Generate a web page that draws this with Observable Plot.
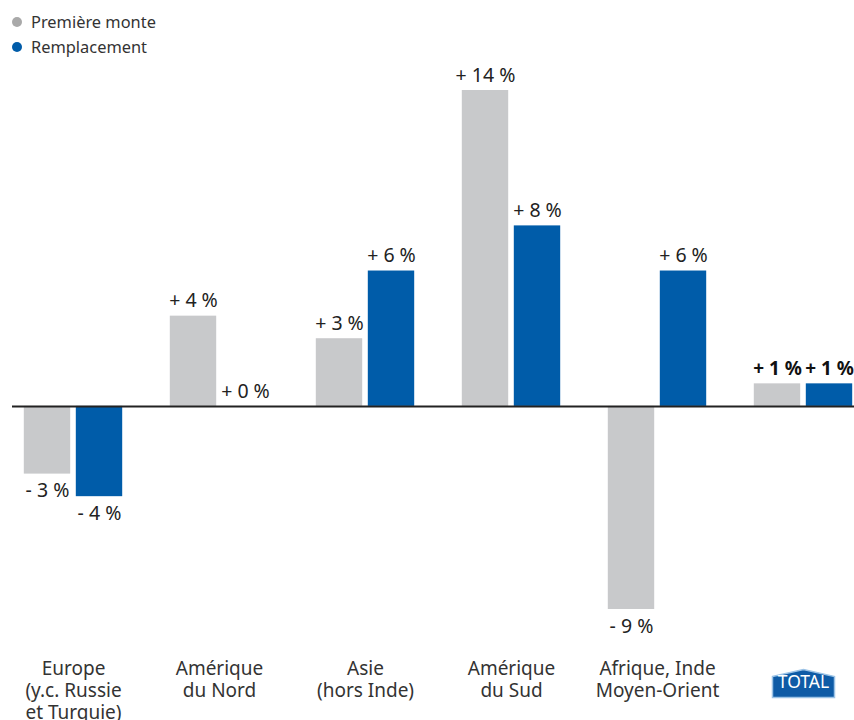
<!DOCTYPE html>
<html><head><meta charset="utf-8">
<script src="https://cdn.jsdelivr.net/npm/d3@7"></script>
<script src="https://cdn.jsdelivr.net/npm/@observablehq/plot@0.6"></script>
<style>
body{margin:0;background:#fff;font-family:"Noto Sans",sans-serif;color:#333;}
#legend{height:62px;box-sizing:border-box;padding:9px 0 0 12px;font-size:16.4px;line-height:25px;}
#legend .sw{display:inline-block;width:10px;height:10px;border-radius:50%;margin-right:9px;vertical-align:middle;position:relative;top:-2px;}
</style></head>
<body>
<div id="legend"></div>
<div id="chart"></div>
<script>
const regions = ["Europe","Amérique du Nord","Asie","Amérique du Sud","Afrique, Inde, Moyen-Orient","Total"];
const regionLabels = ["Europe\n(y.c. Russie\net Turquie)","Amérique\ndu Nord","Asie\n(hors Inde)","Amérique\ndu Sud","Afrique, Inde\nMoyen-Orient",""];
const series = ["Première monte","Remplacement"];
const premiereMonte = [-3, 4, 3, 14, -9, 1];
const remplacement = [-4, 0, 6, 8, 6, 1];
const colors = ["#c8c9cb","#005ca9"];
const legendColors = ["#a9a9a9","#005ca9"];

const pm = regions.map((r,i)=>({region:r, series:series[0], value:premiereMonte[i]}));
const rp = regions.map((r,i)=>({region:r, series:series[1], value:remplacement[i]}));
const fmt = v => (v >= 0 ? "+ " : "- ") + Math.abs(v) + " %";
const labelRows = regions.map((r,i)=>({region:r, label:regionLabels[i]}));

document.getElementById("legend").innerHTML = series.map((s,i)=>
  `<div><span class="sw" style="background:${legendColors[i]}"></span>${s}</div>`).join("");

const house = {
  draw(ctx){
    ctx.moveTo(-31,-7); ctx.lineTo(0,-14); ctx.lineTo(31,-7);
    ctx.lineTo(31,14); ctx.lineTo(-31,14); ctx.closePath();
  }
};

const notTotal = d => d.region !== "Total";
const isTotal = d => d.region === "Total";
const OFF = 26; // half distance between paired bar centers

function valueLabels(rows, dxv){
  return [
    Plot.text(rows.filter(d => notTotal(d) && d.value >= 0), {x: "region", y: "value", text: d => fmt(d.value), dx: dxv, dy: -15, fill: "#222", fontSize: 19.5}),
    Plot.text(rows.filter(d => notTotal(d) && d.value < 0), {x: "region", y: "value", text: d => fmt(d.value), dx: dxv, dy: 17, fill: "#222", fontSize: 19.5}),
    Plot.text(rows.filter(isTotal), {x: "region", y: "value", text: d => fmt(d.value), dx: dxv, dy: -15, fill: "#111", fontWeight: "bold", fontSize: 19})
  ];
}

const chart = Plot.plot({
  width: 854,
  height: 658,
  marginLeft: 12,
  marginRight: 0,
  marginTop: 0,
  marginBottom: 100,
  style: {fontFamily: '"Noto Sans", sans-serif', fontSize: "19px", color: "#222", background: "#fff"},
  x: {domain: regions, range: [-1.8, 877.8], padding: 0, axis: null, label: null},
  y: {domain: [-9, 14], range: [547, 28], axis: null, label: null},
  marks: [
    Plot.barY(pm, {x: "region", y: "value", fill: colors[0], insetLeft: 23.8, insetRight: 75.8}),
    Plot.barY(rp, {x: "region", y: "value", fill: colors[1], insetLeft: 75.8, insetRight: 23.8}),
    Plot.ruleY([0], {stroke: "#222", strokeWidth: 2}),
    ...valueLabels(pm, -OFF),
    ...valueLabels(rp, OFF),
    Plot.text(labelRows, {x: "region", text: "label", frameAnchor: "bottom", lineAnchor: "top", dy: 38.5, lineHeight: 1.16, fill: "#333", fontSize: 19}),
    Plot.dot(labelRows.filter(isTotal), {x: "region", frameAnchor: "bottom", dy: 63, symbol: house, r: 10, fill: "#0e5ba6", stroke: "#9cc3e6", strokeWidth: 1.5}),
    Plot.text(labelRows.filter(isTotal), {x: "region", text: () => "TOTAL", frameAnchor: "bottom", dy: 67, fill: "#fff", fontSize: 17.5})
  ]
});
document.getElementById("chart").appendChild(chart);
</script>
</body></html>
